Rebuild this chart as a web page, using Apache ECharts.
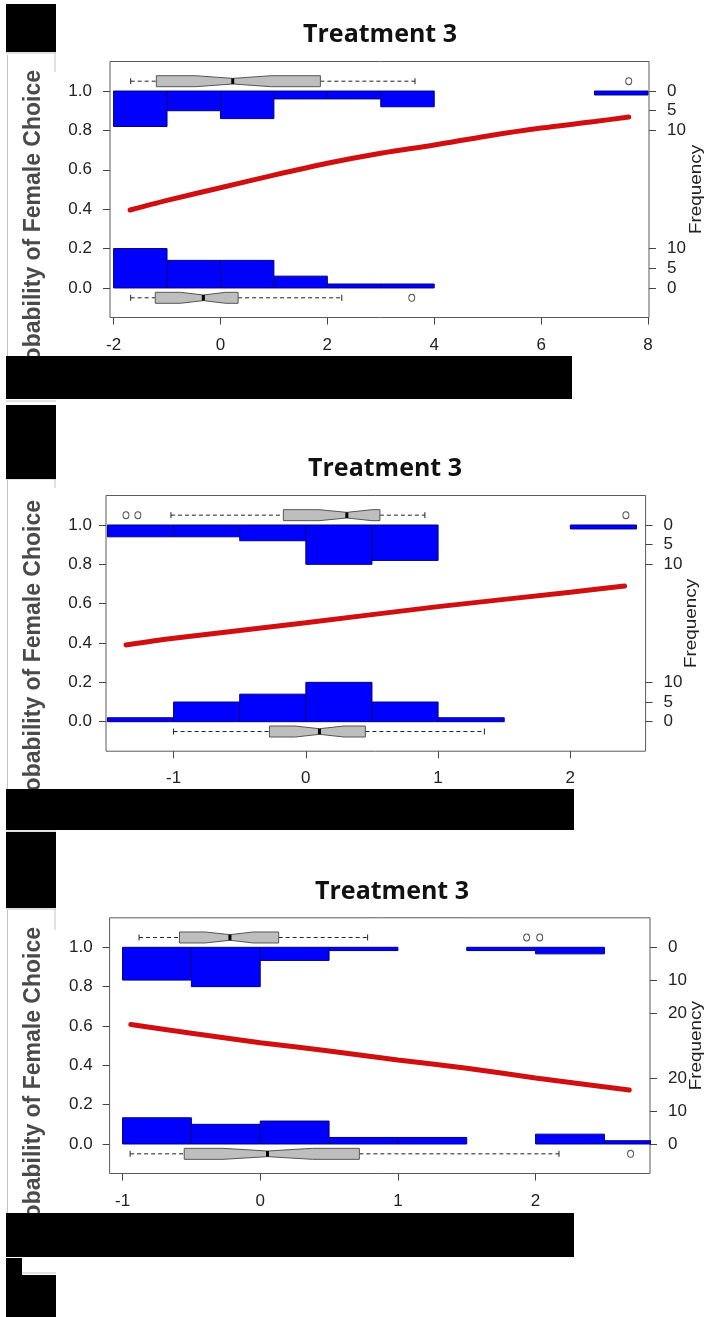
<!DOCTYPE html>
<html>
<head>
<meta charset="utf-8">
<script src="https://cdn.jsdelivr.net/npm/echarts@6/dist/echarts.min.js"></script>
<style>
  html, body { margin: 0; padding: 0; background: #fff; }
  #chart { width: 707px; height: 1317px; }
</style>
</head>
<body>
<div id="chart"></div>
<script>
// shared
const probTicks = [0, 0.2, 0.4, 0.6, 0.8, 1.0];
const boxYTop = 1.05, boxYBottom = -0.05;

// panel 1 (x in units of 1)
const xTicks1 = [-2, 0, 2, 4, 6, 8];
const freqTicks1 = [0, 5, 10];
const countScale1 = 0.02;
const binStart1 = -2, binWidth1 = 1;
const topCounts1 = [9, 5, 7, 2, 2, 4, 0, 0, 0, 1];
const bottomCounts1 = [10, 7, 7, 3, 1, 1, 0, 0, 0, 0];
// whisker lo, Q1, notch lo, median, notch hi, Q3, whisker hi
const topBox1 = [-1.68, -1.2, -0.47, 0.23, 0.95, 1.87, 3.64];
const bottomBox1 = [-1.68, -1.22, -0.75, -0.32, 0.1, 0.33, 2.27];
const topOut1 = [7.64];
const bottomOut1 = [3.58];
const curveX1 = [-1.69, -1, 0, 1, 2, 3, 4, 5, 6, 7, 7.64];
const curveY1 = [0.396, 0.445, 0.509, 0.573, 0.633, 0.684, 0.726, 0.772, 0.812, 0.845, 0.868];

// panel 2
const xTicks2 = [-1, 0, 1, 2];
const freqTicks2 = [0, 5, 10];
const countScale2 = 0.02;
const binStart2 = -1.5, binWidth2 = 0.5;
const topCounts2 = [3, 3, 4, 10, 9, 0, 0, 1];
const bottomCounts2 = [1, 5, 7, 10, 5, 1, 0, 0];
const topBox2 = [-1.02, -0.17, 0.1, 0.31, 0.5, 0.56, 0.9];
const bottomBox2 = [-1.0, -0.275, -0.08, 0.103, 0.29, 0.45, 1.35];
const topOut2 = [-1.36, -1.27, 2.42];
const bottomOut2 = [];
const curveX2 = [-1.36, -1, 0, 1, 2, 2.41];
const curveY2 = [0.39, 0.424, 0.503, 0.585, 0.658, 0.69];

// panel 3
const xTicks3 = [-1, 0, 1, 2];
const freqTicks3 = [0, 10, 20];
const countScale3 = 1 / 60;
const binStart3 = -1, binWidth3 = 0.5;
const topCounts3 = [10, 12, 4, 1, 0, 1, 2, 0];
const bottomCounts3 = [8, 6, 7, 2, 2, 0, 3, 1];
const topBox3 = [-0.88, -0.586, -0.4, -0.22, -0.05, 0.134, 0.78];
const bottomBox3 = [-0.945, -0.552, -0.27, 0.053, 0.38, 0.72, 2.17];
const topOut3 = [1.935, 2.03];
const bottomOut3 = [2.69];
const curveX3 = [-0.94, -0.5, 0, 0.5, 1, 1.5, 2, 2.68];
const curveY3 = [0.608, 0.563, 0.515, 0.473, 0.427, 0.385, 0.336, 0.274];

const tickFont = "'Liberation Sans', Arial, sans-serif";

const panels = [
  { grid: { left: 110, top: 61.5, width: 539, height: 256 }, xMin: -2.067, xMax: 8.019,
    xTicks: xTicks1, freq: freqTicks1, scale: countScale1, binStart: binStart1, binWidth: binWidth1,
    topCounts: topCounts1, bottomCounts: bottomCounts1, topBox: topBox1, bottomBox: bottomBox1,
    topOut: topOut1, bottomOut: bottomOut1, cx: curveX1, cy: curveY1,
    titleX: 380, titleY: 35, freqX: 697, stripTextY: 70, yMargin: 18 },
  { grid: { left: 106, top: 495.5, width: 539.6, height: 255.7 }, xMin: -1.511, xMax: 2.569,
    xTicks: xTicks2, freq: freqTicks2, scale: countScale2, binStart: binStart2, binWidth: binWidth2,
    topCounts: topCounts2, bottomCounts: bottomCounts2, topBox: topBox2, bottomBox: bottomBox2,
    topOut: topOut2, bottomOut: bottomOut2, cx: curveX2, cy: curveY2,
    titleX: 385, titleY: 469, freqX: 692, stripTextY: 500, yMargin: 14 },
  { grid: { left: 109.6, top: 917.8, width: 540.4, height: 255.7 }, xMin: -1.094, xMax: 2.831,
    xTicks: xTicks3, freq: freqTicks3, scale: countScale3, binStart: binStart3, binWidth: binWidth3,
    topCounts: topCounts3, bottomCounts: bottomCounts3, topBox: topBox3, bottomBox: bottomBox3,
    topOut: topOut3, bottomOut: bottomOut3, cx: curveX3, cy: curveY3,
    titleX: 392, titleY: 892, freqX: 697, stripTextY: 927, yMargin: 17 }
];

const chart = echarts.init(document.getElementById('chart'), null, { renderer: 'canvas' });

const option = { animation: false, backgroundColor: '#fff', title: [], grid: [], xAxis: [], yAxis: [], series: [], graphic: [] };

panels.forEach((p, i) => {
  option.title.push({
    text: 'Treatment 3', left: p.titleX, top: p.titleY, textAlign: 'center', textVerticalAlign: 'middle', padding: 0,
    textStyle: { fontFamily: "'Open Sans'", fontWeight: 'bold', fontSize: 25, color: '#111' }
  });
  option.grid.push(Object.assign({ show: true, borderColor: '#5a5a5a', borderWidth: 1, backgroundColor: 'transparent', containLabel: false, outerBoundsMode: 'none' }, p.grid));

  option.xAxis.push({
    type: 'value', gridIndex: i, min: p.xMin, max: p.xMax, position: 'bottom',
    axisLine: { show: false, onZero: false }, splitLine: { show: false },
    axisTick: { show: true, customValues: p.xTicks, length: 7, lineStyle: { color: '#444' } },
    axisLabel: { customValues: p.xTicks, margin: 19, fontFamily: tickFont, fontSize: 17, color: '#222', formatter: v => String(v) }
  });
  option.yAxis.push({
    type: 'value', gridIndex: i, min: -0.15, max: 1.15, position: 'left',
    axisLine: { show: false, onZero: false }, splitLine: { show: false },
    axisTick: { show: true, customValues: probTicks, length: 7, lineStyle: { color: '#444' } },
    axisLabel: { customValues: probTicks, margin: p.yMargin, fontFamily: tickFont, fontSize: 17, color: '#222', formatter: v => v.toFixed(1) }
  });
  const freqPos = p.freq.map(c => 1 - c * p.scale).concat(p.freq.map(c => c * p.scale));
  option.yAxis.push({
    type: 'value', gridIndex: i, min: -0.15, max: 1.15, position: 'right',
    axisLine: { show: false, onZero: false }, splitLine: { show: false },
    axisTick: { show: true, customValues: freqPos, length: 7, lineStyle: { color: '#444' } },
    axisLabel: { customValues: freqPos, margin: 18, fontFamily: tickFont, fontSize: 17, color: '#222',
      formatter: v => String(Math.round(v > 0.5 ? (1 - v) / p.scale : v / p.scale)) }
  });

  // histogram bars
  const bars = [];
  p.topCounts.forEach((c, k) => { if (c > 0) bars.push([p.binStart + k * p.binWidth, p.binStart + (k + 1) * p.binWidth, c, 1]); });
  p.bottomCounts.forEach((c, k) => { if (c > 0) bars.push([p.binStart + k * p.binWidth, p.binStart + (k + 1) * p.binWidth, c, 0]); });
  option.series.push({
    type: 'custom', xAxisIndex: i, yAxisIndex: 2 * i, clip: true, z: 2, data: bars,
    renderItem: (params, api) => {
      const top = api.value(3) === 1;
      const base = top ? 1 : 0;
      const end = top ? 1 - api.value(2) * p.scale : api.value(2) * p.scale;
      const a = api.coord([api.value(0), base]);
      const b = api.coord([api.value(1), end]);
      return {
        type: 'rect',
        shape: { x: a[0], y: Math.min(a[1], b[1]), width: b[0] - a[0], height: Math.abs(b[1] - a[1]) },
        style: { fill: '#0000ff', stroke: '#000080', lineWidth: 1 }
      };
    }
  });

  // fitted curve
  option.series.push({
    type: 'line', xAxisIndex: i, yAxisIndex: 2 * i, z: 3, smooth: 0.3, showSymbol: false, symbol: 'none',
    data: p.cx.map((x, k) => [x, p.cy[k]]),
    lineStyle: { color: '#d01010', width: 5, cap: 'round' }
  });

  // notched boxplots
  option.series.push({
    type: 'custom', xAxisIndex: i, yAxisIndex: 2 * i, z: 4,
    data: [p.topBox.concat([boxYTop]), p.bottomBox.concat([boxYBottom])],
    renderItem: (params, api) => {
      const v = k => api.value(k);
      const yv = v(7);
      const px = x => api.coord([x, yv])[0];
      const cy = api.coord([0, yv])[1];
      const h = 5.5, hn = 2.8, cap = 3;
      const wl = px(v(0)), q1 = px(v(1)), nl = px(v(2)), md = px(v(3)), nh = px(v(4)), q3 = px(v(5)), wh = px(v(6));
      const dash = { stroke: '#222', lineWidth: 1, lineDash: [4, 3] };
      return {
        type: 'group',
        children: [
          { type: 'line', shape: { x1: wl, y1: cy, x2: q1, y2: cy }, style: dash },
          { type: 'line', shape: { x1: q3, y1: cy, x2: wh, y2: cy }, style: dash },
          { type: 'line', shape: { x1: wl, y1: cy - cap, x2: wl, y2: cy + cap }, style: { stroke: '#222', lineWidth: 1 } },
          { type: 'line', shape: { x1: wh, y1: cy - cap, x2: wh, y2: cy + cap }, style: { stroke: '#222', lineWidth: 1 } },
          { type: 'polygon', shape: { points: [
              [q1, cy - h], [nl, cy - h], [md, cy - hn], [nh, cy - h], [q3, cy - h],
              [q3, cy + h], [nh, cy + h], [md, cy + hn], [nl, cy + h], [q1, cy + h]] },
            style: { fill: '#bebebe', stroke: '#555', lineWidth: 1 } },
          { type: 'line', shape: { x1: md, y1: cy - hn, x2: md, y2: cy + hn }, style: { stroke: '#000', lineWidth: 3 } }
        ]
      };
    }
  });

  // outliers
  option.series.push({
    type: 'scatter', xAxisIndex: i, yAxisIndex: 2 * i, z: 5, symbol: 'circle', symbolSize: [6, 7],
    data: p.topOut.map(x => [x, boxYTop]).concat(p.bottomOut.map(x => [x, boxYBottom])),
    itemStyle: { color: '#fff', borderColor: '#222', borderWidth: 1 }
  });

  // Frequency axis title
  const g = p.grid;
  option.graphic.push({
    type: 'text', x: p.freqX, y: g.top + g.height / 2, rotation: Math.PI / 2, scaleX: 1.18, z: 50,
    style: { text: 'Frequency', fontFamily: "'Liberation Sans', Arial", fontSize: 16, fill: '#222', align: 'center', verticalAlign: 'middle' }
  });
  // cropped y-axis title strip
  option.graphic.push({
    type: 'text', x: 34, y: p.stripTextY, rotation: Math.PI / 2, z: 50,
    style: { text: 'Probability of Female Choice', fontFamily: "'Liberation Sans', Arial", fontWeight: 'bold', fontSize: 23, fill: '#4a4a4a', align: 'right', verticalAlign: 'middle' }
  });
});

// redaction blocks and strip edges
const blackRects = [
  [6, 4, 50, 48], [6, 356, 566, 43], [6, 405, 50, 74],
  [6, 789, 568, 41], [6, 832, 50, 76],
  [6, 1213, 568, 44], [6, 1258, 16, 59], [6, 1275, 50, 42]
];
blackRects.forEach(r => option.graphic.push({ type: 'rect', z: 100, shape: { x: r[0], y: r[1], width: r[2], height: r[3] }, style: { fill: '#000' } }));
const greyLines = [
  [6, 53, 56, 53], [55, 52, 55, 72], [6, 401, 56, 401],
  [6, 479, 56, 479], [55, 479, 55, 488], [6, 831, 56, 831],
  [6, 909, 56, 909], [55, 909, 55, 930], [22, 1273, 56, 1273],
  [7.5, 55, 7.5, 356], [7.5, 480, 7.5, 789], [7.5, 910, 7.5, 1213]
];
greyLines.forEach(l => option.graphic.push({ type: 'line', z: 99, shape: { x1: l[0], y1: l[1], x2: l[2], y2: l[3] }, style: { stroke: '#c4c4c4', lineWidth: 1 } }));

chart.setOption(option);
</script>
</body>
</html>
